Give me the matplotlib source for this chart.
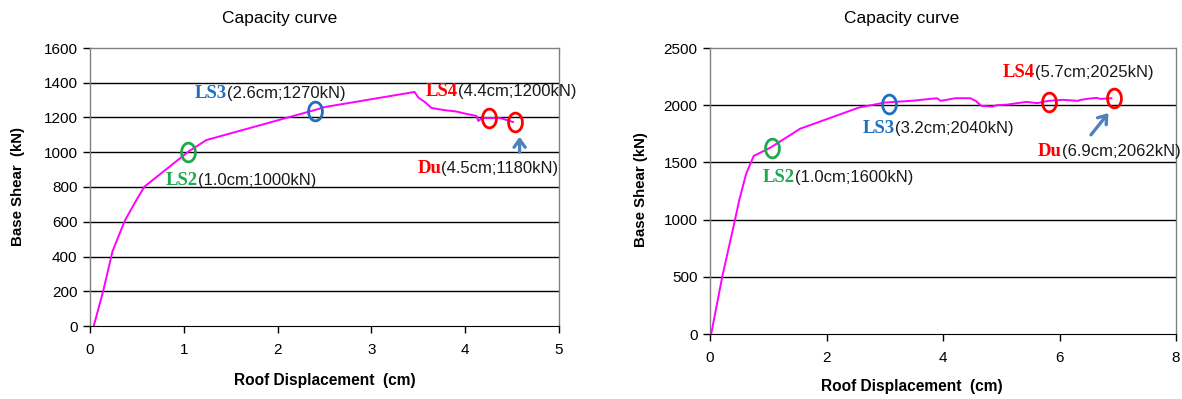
import matplotlib
matplotlib.use("Agg")
import matplotlib.pyplot as plt
from matplotlib.path import Path
import numpy as np

plt.rcParams['font.family'] = ['Liberation Sans', 'DejaVu Sans']

# left building - capacity curve
disp_a = [0.04, 0.14, 0.24, 0.37, 0.5, 0.58, 1.05, 1.24, 2.41, 2.5, 3.46,
          3.5, 3.57, 3.64, 3.77, 3.9, 4.02, 4.12, 4.14, 4.18, 4.37, 4.44, 4.51]
shear_a = [0, 200, 430, 605, 730, 802, 1004, 1070, 1245, 1260, 1347,
           1315, 1289, 1255, 1243, 1235, 1220, 1209, 1180, 1197, 1197, 1186, 1174]

# right building - capacity curve
disp_b = [0.02, 0.21, 0.43, 0.5, 0.62, 0.75, 1.04, 1.55, 2.56, 3.0, 3.5, 3.83,
          3.9, 3.96, 4.21, 4.47, 4.56, 4.66, 4.85, 4.92, 5.1, 5.43, 5.62, 5.81,
          6.06, 6.32, 6.35, 6.51, 6.64, 6.7, 6.89]
shear_b = [0, 500, 1000, 1166, 1400, 1556, 1630, 1795, 1980, 2023, 2040, 2058,
           2060, 2038, 2061, 2061, 2038, 1994, 1988, 2000, 2005, 2029, 2018, 2038,
           2047, 2038, 2045, 2058, 2064, 2055, 2061]

# limit state points: name, marker x, marker y, colour, label text, label x, label y
ls_a = [("LS2", 1.05, 1001, "#1fa84f", "(1.0cm;1000kN)", 0.81, 840),
        ("LS3", 2.40, 1237, "#1f6fbf", "(2.6cm;1270kN)", 1.12, 1341),
        ("LS4", 4.25, 1197, "#ff0000", "(4.4cm;1200kN)", 3.58, 1347),
        ("Du", 4.53, 1174, "#ff0000", "(4.5cm;1180kN)", 3.49, 909)]
ls_b = [("LS2", 1.07, 1626, "#1fa84f", "(1.0cm;1600kN)", 0.91, 1364),
        ("LS3", 3.08, 2012, "#1f6fbf", "(3.2cm;2040kN)", 2.63, 1800),
        ("LS4", 5.82, 2030, "#ff0000", "(5.7cm;2025kN)", 5.03, 2290),
        ("Du", 6.94, 2063, "#ff0000", "(6.9cm;2062kN)", 5.63, 1591)]

arrow_a = ((4.58, 984), (4.58, 1105))
arrow_b = ((6.51, 1722), (6.87, 1950))

# taller-than-wide ring marker
t = np.linspace(0, 2 * np.pi, 60)
ellipse = Path(np.column_stack([0.74 * np.cos(t), np.sin(t)]))


def draw(ax, x, y, points, arrow, xmax, ymax, ystep, xstep):
    ax.set_xlim(0, xmax)
    ax.set_ylim(0, ymax)
    ax.set_yticks(np.arange(0, ymax + 1, ystep))
    ax.set_xticks(np.arange(0, xmax + 0.01, xstep))
    for yy in np.arange(ystep, ymax, ystep):
        ax.axhline(yy, color='black', lw=1.0, zorder=1)
    for s in ['top', 'right', 'left']:
        ax.spines[s].set_color('#808080')
        ax.spines[s].set_linewidth(1.0)
    ax.spines['bottom'].set_color('black')
    ax.tick_params(axis='both', direction='out', length=5, width=1,
                   labelsize=11, colors='black', pad=4)
    ax.tick_params(axis='x', pad=7)
    ax.plot(x, y, color='#ff00ff', lw=1.4, zorder=3)
    for name, mx, my, col, txt, tx, ty in points:
        ax.plot(mx, my, marker=ellipse, ms=13.5, mfc='none', mec=col,
                mew=2.0, zorder=4)
        t1 = ax.text(tx, ty, name, color=col, fontsize=13.5, fontweight='bold',
                     family='Liberation Serif', va='center', ha='left')
        ax.annotate(txt, xy=(1, 0.5), xycoords=t1, va='center', ha='left',
                    fontsize=12, color='#1a1a1a')
    ax.annotate('', xy=arrow[1], xytext=arrow[0],
                arrowprops=dict(arrowstyle='->,head_width=0.4,head_length=0.55',
                                color='#4f81bd', lw=2.4))


fig = plt.figure(figsize=(11.82, 3.99), dpi=100)
W, H = 1182.0, 399.0
ax1 = fig.add_axes([90 / W, 1 - 326 / H, 469 / W, 278 / H])
ax2 = fig.add_axes([710 / W, 1 - 334 / H, 466 / W, 286 / H])

draw(ax1, disp_a, shear_a, ls_a, arrow_a, 5, 1600, 200, 1)
draw(ax2, disp_b, shear_b, ls_b, arrow_b, 8, 2500, 500, 2)

fig.text(280 / W, 1 - 18 / H, "Capacity curve", ha='center', va='center', fontsize=12.5)
fig.text(902 / W, 1 - 18 / H, "Capacity curve", ha='center', va='center', fontsize=12.5)
fig.text(18 / W, 1 - 187 / H, "Base Shear  (kN)", rotation=90, ha='center',
         va='center', fontsize=10.8, fontweight='bold')
fig.text(641 / W, 1 - 190 / H, "Base Shear (kN)", rotation=90, ha='center',
         va='center', fontsize=10.8, fontweight='bold')
fig.text(325 / W, 1 - 381 / H, "Roof Displacement  (cm)", ha='center',
         va='center', fontsize=11.2, fontweight='bold')
fig.text(912 / W, 1 - 387 / H, "Roof Displacement  (cm)", ha='center',
         va='center', fontsize=11.2, fontweight='bold')

fig.savefig('out.png', dpi=100)
